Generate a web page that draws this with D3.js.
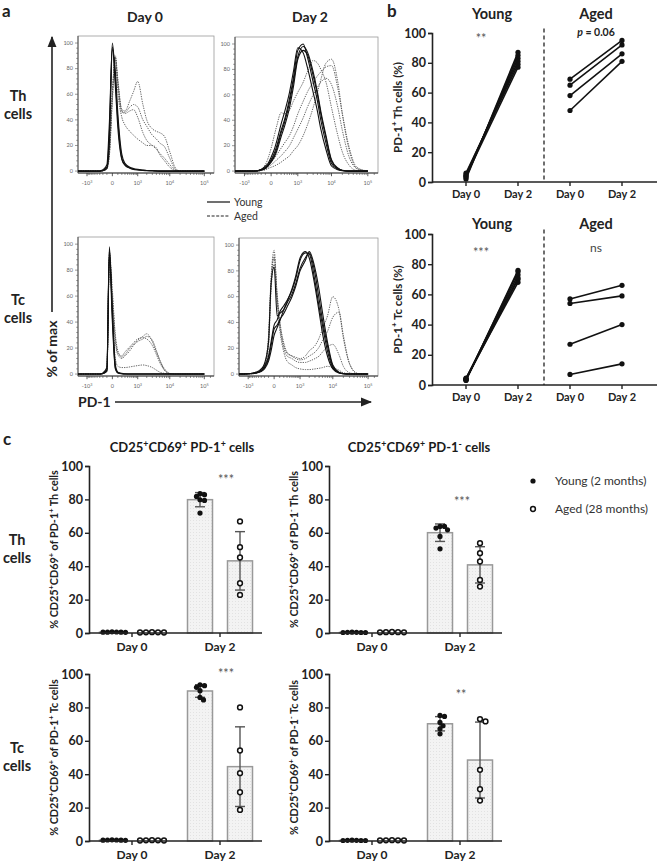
<!DOCTYPE html>
<html><head><meta charset="utf-8">
<script src="https://cdn.jsdelivr.net/npm/d3@7"></script>
<style>body{margin:0;background:#fff} svg{display:block;font-family:Lato,'Open Sans',sans-serif}</style>
</head><body><svg id="fig" width="660" height="862"></svg>
<script>
// ---------------- DATA ----------------
// Panel a: flow histograms, % of max sampled at these PD-1 fluorescence values
const HX = [-2000,-1000,-500,-300,-200,-100,-50,0,50,100,200,300,500,700,1000,1500,2000,3000,4000,5000,7000,10000,15000,20000,30000,50000,100000];
const histTickVals = [-1000,0,1000,10000,100000];
const histTickLabels = ["-10^3","0","10^3","10^4","10^5"];
const histYTicks = [0,20,40,60,80,100];

const thD0Young1 = [0,0,0,0,0.5,3,30,100,72,40,10,5,2.5,1.5,1,0.6,0.4,0.2,0.1,0,0,0,0,0,0,0,0];
const thD0Young2 = [0,0,0,0,1,5,38,97,66,34,9,4.5,2.2,1.3,0.9,0.5,0.3,0.2,0,0,0,0,0,0,0,0,0];
const thD0Young3 = [0,0,0,0,0.3,2,22,95,78,45,13,6,3,2,1.3,0.8,0.5,0.3,0.2,0,0,0,0,0,0,0,0];
const thD0Aged1 = [0,0,0,0,0.5,3,15,60,90,72,48,47,55,62,70,52,40,33,31,30,27,15,2,0,0,0,0];
const thD0Aged2 = [0,0,0,0,0.3,2,12,55,88,70,46,46,50,52,50,40,35,28,25,22,19,10,1,0,0,0,0];
const thD0Aged3 = [0,0,0,0,0.5,3,16,62,87,68,47,45,47,48,42,30,24,20,17,14,10,5,0.5,0,0,0,0];
const thD0Aged4 = [0,0,0,0,0.4,3,14,58,89,62,42,36,31,28,25,22,20,20,18,13,8,3,0.3,0,0,0,0];

const thD2Young1 = [0,0,0,0.3,1,3,5,9,14,20,32,40,57,73,95,100,90,70,55,40,22,6,1.5,0.5,0,0,0];
const thD2Young2 = [0,0,0,0.2,0.8,2,4,7,11,16,27,35,50,66,88,95,92,75,60,45,26,8,2,0.5,0,0,0];
const thD2Young3 = [0,0,0,0.4,1.2,4,6,11,17,24,37,46,62,78,97,93,82,62,47,33,17,4,1,0.3,0,0,0];
const thD2Young4 = [0,0,0,0.3,1,2.5,4.5,8,12,18,30,38,54,70,90,98,94,78,62,47,28,9,2.5,0.6,0,0,0];
const thD2Aged1 = [0,0,0,0.5,1.5,5,10,18,28,36,46,45,48,55,62,70,78,87,85,80,70,50,28,15,5,0.5,0];
const thD2Aged2 = [0,0,0,0.3,1,2.5,4,7,10,13,18,22,28,35,45,55,62,70,75,78,82,83,65,45,20,3,0];
const thD2Aged3 = [0,0,0,0.2,0.6,1.5,3,5,7,9,12,15,20,26,33,42,50,60,66,70,73,68,50,32,12,2,0];
const thD2Aged4 = [0,0,0,0.1,0.4,1,2,3,4,5,7,9,12,16,20,28,36,50,62,72,85,88,70,45,18,2,0];

const tcD0Young1 = [0,0,0,0,0.5,3,98,45,5,1,0.3,0,0,0,0,0,0,0,0,0,0,0,0,0,0,0,0];
const tcD0Young2 = [0,0,0,0,0.8,5,95,50,7,1.5,0.5,0.2,0,0,0,0,0,0,0,0,0,0,0,0,0,0,0];
const tcD0Young3 = [0,0,0,0,0.4,2,92,40,4,0.8,0.2,0,0,0,0,0,0,0,0,0,0,0,0,0,0,0,0];
const tcD0Aged1 = [0,0,0,0,0.5,3,90,60,30,18,13,15,20,23,26,29,31,25,17,11,4,0.5,0,0,0,0,0];
const tcD0Aged2 = [0,0,0,0,0.5,4,94,65,28,16,14,17,21,24,27,28,27,22,15,9,3,0.3,0,0,0,0,0];
const tcD0Aged3 = [0,0,0,0,0.4,3,85,55,25,15,12,14,18,22,25,27,29,26,18,11,3,0.3,0,0,0,0,0];
const tcD0Aged4 = [0,0,0,0,0.4,3,88,50,12,6,5,5,5.5,6,6.5,7,6.5,5,3,1.5,0.5,0,0,0,0,0,0];

const tcD2Young1 = [0,0.2,1,3,6,14,25,38,42,48,53,57,65,74,88,94,93,72,52,38,18,5,1,0.3,0,0,0];
const tcD2Young2 = [0,0.3,1.5,4,8,25,70,83,45,47,50,55,62,70,82,90,94,78,58,42,22,6,1.2,0.3,0,0,0];
const tcD2Young3 = [0,0.2,1,2.5,5,12,22,35,38,42,47,52,60,68,80,88,95,82,65,48,25,7,1.5,0.4,0,0,0];
const tcD2Young4 = [0,0.2,0.8,2,4,10,18,30,36,41,50,56,66,76,90,95,90,68,48,32,14,4,0.8,0.2,0,0,0];
const tcD2Aged1 = [0,0.2,1,3,7,30,75,96,60,40,22,16,14,13,12,14,18,22,28,35,45,60,50,28,8,0.5,0];
const tcD2Aged2 = [0,0.2,1,3,6,25,70,90,62,42,24,17,14,12,11,12,14,17,21,26,33,44,48,30,8,0.5,0];
const tcD2Aged3 = [0,0.2,1,2.5,6,28,72,92,58,38,20,14,12,10,9,9,10,12,14,17,21,23,15,6,1,0,0];
const tcD2Aged4 = [0,0.2,0.8,2.5,5,22,65,85,55,35,17,10,7,5,4,3.5,3.5,4,4.5,5,6,5,3,1,0.3,0,0];

// Panel b: paired % PD-1+ cells
const pairCats = ["Day 0","Day 2","Day 0","Day 2"];
const pairYTicks = [0,20,40,60,80,100];
const thYoungDay0 = [2,3,4,5,6,4];
const thYoungDay2 = [87,85,83,81,79,77];
const thAgedDay0 = [69,65,58,48];
const thAgedDay2 = [95,92,86,81];
const tcYoungDay0 = [3,3.5,4,4,3.5,4.5];
const tcYoungDay2 = [76,75,73,71,70,68];
const tcAgedDay0 = [57,54,27,7];
const tcAgedDay2 = [66,59,40,14];

// Panel c: % CD25+CD69+ cells
const barDays = ["Day 0","Day 2"];
const barYTicks = [0,20,40,60,80,100];
const cThPosYoungD0 = [0.5,0.6,0.4,0.5,0.7,0.5];
const cThPosAgedD0 = [0.3,0.4,0.3,0.5,0.4];
const cThPosYoungD2 = [82.8,83.4,81.8,79.8,79.4,71.8];
const cThPosAgedD2 = [66.8,51.4,45.2,29.8,22.8];
const cThNegYoungD0 = [0.3,0.4,0.3,0.5,0.4,0.3];
const cThNegAgedD0 = [0.4,0.5,0.4,0.6,0.5];
const cThNegYoungD2 = [63.8,63.8,62.8,61.8,57.8,50.4];
const cThNegAgedD2 = [53.8,47.8,42.8,31.8,27.8];
const cTcPosYoungD0 = [0.6,0.5,0.7,0.4,0.6,0.5];
const cTcPosAgedD0 = [0.4,0.3,0.5,0.4,0.3];
const cTcPosYoungD2 = [93,93.5,92,90,86,84.5];
const cTcPosAgedD2 = [80,54.2,40.6,29.2,18.6];
const cTcNegYoungD0 = [0.3,0.4,0.3,0.4,0.5,0.3];
const cTcNegAgedD0 = [0.3,0.4,0.3,0.5,0.4];
const cTcNegYoungD2 = [75.2,74.6,71,69,67.2,64.2];
const cTcNegAgedD2 = [73,71.6,42.6,31,24.2];

// ---------------- HELPERS ----------------
const svg = d3.select("#fig");
function rich(t, str, size){
  const parts=[]; const re=/\^(\{[^}]*\}|.)/g; let last=0, m;
  while((m=re.exec(str))){ if(m.index>last) parts.push({t:str.slice(last,m.index),sup:false});
    let s=m[1]; if(s[0]==='{') s=s.slice(1,-1); parts.push({t:s,sup:true}); last=re.lastIndex; }
  if(last<str.length) parts.push({t:str.slice(last),sup:false});
  let off=0; const k=size*0.4;
  parts.forEach(p=>{ const ts=t.append("tspan").text(p.t);
    if(p.sup){ ts.attr("font-size",size*0.68).attr("dy",(-k-off)); off=-k; }
    else { ts.attr("dy",-off); off=0; } });
  return t;
}
function label(x,y,str,size,opts={}){
  const t=svg.append("text").attr("x",x).attr("y",y).attr("font-size",size)
    .attr("font-weight",opts.w||"bold").attr("fill",opts.fill||"#222")
    .attr("text-anchor",opts.anchor||"middle");
  if(opts.rot) t.attr("transform",`rotate(-90,${x},${y})`);
  if(opts.italic) t.attr("font-style","italic");
  return rich(t,str,size);
}

// ---------------- PANEL a ----------------
label(2,17,"a",17,{anchor:"start"});
label(145,22,"Day 0",14);
label(310,22,"Day 2",14);
label(18,101,"Th",14.5); label(18,119,"cells",14.5);
label(18,305,"Tc",14.5); label(18,323,"cells",14.5);

const defs=svg.append("defs");
defs.append("marker").attr("id","arr").attr("viewBox","0 0 10 10").attr("refX",9).attr("refY",5)
  .attr("markerWidth",7).attr("markerHeight",7).attr("orient","auto")
  .append("path").attr("d","M0,1 L10,5 L0,9 Z").attr("fill","#222");
svg.append("line").attr("x1",52).attr("y1",312).attr("x2",52).attr("y2",37)
  .attr("stroke","#222").attr("stroke-width",1.6).attr("marker-end","url(#arr)");
label(57,349,"% of max",14,{rot:true});
svg.append("line").attr("x1",115).attr("y1",402).attr("x2",371).attr("y2",402)
  .attr("stroke","#222").attr("stroke-width",1.6).attr("marker-end","url(#arr)");
label(78,407,"PD-1",14,{anchor:"start"});

function hist(x0,x1,yTop,yBot,young,aged){
  const x=d3.scaleSymlog().constant(230).domain([-2000,190000]).range([x0,x1]);
  const y=d3.scaleLinear().domain([-1.5,105.5]).range([yBot,yTop]);
  const g=svg.append("g");
  g.append("rect").attr("x",x0).attr("y",yTop).attr("width",x1-x0).attr("height",yBot-yTop)
    .attr("fill","none").attr("stroke","#9a9a9a").attr("stroke-width",0.8);
  g.append("line").attr("x1",x0).attr("x2",x0).attr("y1",yTop).attr("y2",yBot).attr("stroke","#444").attr("stroke-width",0.9);
  g.append("line").attr("x1",x0).attr("x2",x1).attr("y1",yBot).attr("y2",yBot).attr("stroke","#333").attr("stroke-width",1);
  d3.range(0,101,4).forEach(v=>{ g.append("line").attr("x1",x0-(v%20===0?3:1.8)).attr("x2",x0)
    .attr("y1",y(v)).attr("y2",y(v)).attr("stroke","#555").attr("stroke-width",0.6); });
  histYTicks.forEach(v=>{ g.append("text").attr("x",x0-5).attr("y",y(v)+1.8).attr("font-size",5.5)
    .attr("text-anchor","end").attr("fill","#666").text(v); });
  const minor=[-900,-800,-700,-600,-500,-400,-300,-200,-100,100,200,300,400,500,600,700,800,900]
    .concat(d3.range(2000,10000,1000),d3.range(20000,100000,10000),[150000]);
  minor.forEach(v=>{ g.append("line").attr("x1",x(v)).attr("x2",x(v)).attr("y1",yBot).attr("y2",yBot+2)
    .attr("stroke","#444").attr("stroke-width",0.6); });
  histTickVals.forEach((v,i)=>{ g.append("line").attr("x1",x(v)).attr("x2",x(v)).attr("y1",yBot).attr("y2",yBot+3.2)
      .attr("stroke","#333").attr("stroke-width",0.8);
    const t=g.append("text").attr("x",x(v)).attr("y",yBot+12).attr("font-size",5.5).attr("fill","#666").attr("text-anchor","middle");
    rich(t,histTickLabels[i],5.5); });
  const line=d3.line().x((d,i)=>x(HX[i])).y(d=>y(d)).curve(d3.curveMonotoneX);
  aged.forEach(a=>g.append("path").attr("d",line(HX.map((h,i)=>a[i]||0))).attr("fill","none")
    .attr("stroke","#555").attr("stroke-width",0.9).attr("stroke-dasharray","1.3,1.1"));
  young.forEach(a=>g.append("path").attr("d",line(HX.map((h,i)=>a[i]||0))).attr("fill","none")
    .attr("stroke","#111").attr("stroke-width",1.1));
}
hist(78,214,36,173,[thD0Young1,thD0Young2,thD0Young3],[thD0Aged1,thD0Aged2,thD0Aged3,thD0Aged4]);
hist(235,378,37,173,[thD2Young1,thD2Young2,thD2Young3,thD2Young4],[thD2Aged1,thD2Aged2,thD2Aged3,thD2Aged4]);
hist(78,214,237,376,[tcD0Young1,tcD0Young2,tcD0Young3],[tcD0Aged1,tcD0Aged2,tcD0Aged3,tcD0Aged4]);
hist(239,378,238,376,[tcD2Young1,tcD2Young2,tcD2Young3,tcD2Young4],[tcD2Aged1,tcD2Aged2,tcD2Aged3,tcD2Aged4]);

svg.append("line").attr("x1",207).attr("x2",230).attr("y1",202).attr("y2",202).attr("stroke","#222").attr("stroke-width",1.3);
svg.append("line").attr("x1",207).attr("x2",230).attr("y1",216).attr("y2",216).attr("stroke","#222").attr("stroke-width",1.2).attr("stroke-dasharray","3,1.6");
label(234,206,"Young",10.5,{anchor:"start",w:"normal",fill:"#333"});
label(234,220,"Aged",10.5,{anchor:"start",w:"normal",fill:"#333"});

// ---------------- PANEL b ----------------
label(387,17,"b",17,{anchor:"start"});
function pairs(y0,y100,yD0,yD2,aD0,aD2,ylab,titleY,sigYoung,sigYoungY,sigAged,sigAgedY,agedItalicP){
  const x=d3.scalePoint().domain(d3.range(pairCats.length)).range([466,622]);
  const y=d3.scaleLinear().domain([0,100]).range([y0,y100]);
  const g=svg.append("g");
  const ax=g.append("g").attr("transform","translate(432,0)")
    .call(d3.axisLeft(y).tickValues(pairYTicks).tickSize(4).tickPadding(2));
  ax.select(".domain").attr("stroke","#222").attr("stroke-width",1.6);
  ax.selectAll(".tick line").attr("stroke","#222").attr("stroke-width",1.4);
  ax.selectAll("text").attr("font-size",12.5).attr("font-weight","bold").attr("fill","#222").attr("font-family","Lato,sans-serif");
  g.append("line").attr("x1",432).attr("x2",657).attr("y1",y0).attr("y2",y0).attr("stroke","#222").attr("stroke-width",1.6);
  pairCats.forEach((c,i)=>{ g.append("line").attr("x1",x(i)).attr("x2",x(i)).attr("y1",y0).attr("y2",y0+4).attr("stroke","#222").attr("stroke-width",1.4);
    label(x(i),y0+16,c,11); });
  const xm=(x(1)+x(2))/2;
  g.append("line").attr("x1",xm).attr("x2",xm).attr("y1",y(103)).attr("y2",y0).attr("stroke","#222").attr("stroke-width",1.3).attr("stroke-dasharray","4,3");
  const drawPairs=(d0,d2,i0,i1)=>{ d0.forEach((v,k)=>{
      g.append("line").attr("x1",x(i0)).attr("y1",y(v)).attr("x2",x(i1)).attr("y2",y(d2[k])).attr("stroke","#111").attr("stroke-width",1.6);
    });
    d0.forEach(v=>g.append("circle").attr("cx",x(i0)).attr("cy",y(v)).attr("r",2.6).attr("fill","#111"));
    d2.forEach(v=>g.append("circle").attr("cx",x(i1)).attr("cy",y(v)).attr("r",2.6).attr("fill","#111")); };
  drawPairs(yD0,yD2,0,1); drawPairs(aD0,aD2,2,3);
  label((x(0)+x(1))/2,titleY,"Young",14.5);
  label((x(2)+x(3))/2,titleY,"Aged",14.5);
  label(481,sigYoungY,sigYoung,12.5,{w:"normal",fill:"#555"});
  if(agedItalicP){
    const t=svg.append("text").attr("x",(x(2)+x(3))/2).attr("y",sigAgedY).attr("text-anchor","middle").attr("font-size",10.5).attr("font-weight","bold").attr("fill","#222");
    t.append("tspan").attr("font-style","italic").text("p");
    t.append("tspan").text(" = 0.06");
  } else label((x(2)+x(3))/2,sigAgedY,sigAged,12,{w:"normal",fill:"#444"});
  label(402,(y0+y100)/2,ylab,11.5,{rot:true});
}
pairs(182,33,thYoungDay0,thYoungDay2,thAgedDay0,thAgedDay2,"PD-1^+ Th cells (%)",19,"**",43,"",36,true);
pairs(385,234,tcYoungDay0,tcYoungDay2,tcAgedDay0,tcAgedDay2,"PD-1^+ Tc cells (%)",229,"***",257,"ns",252,false);

// ---------------- PANEL c ----------------
label(3,445,"c",17,{anchor:"start"});
label(182,452,"CD25^+CD69^+ PD-1^+ cells",13,{w:"bold",fill:"#1a1a1a"});
label(419,452,"CD25^+CD69^+ PD-1^- cells",13,{w:"bold",fill:"#1a1a1a"});
label(17,545,"Th",14.5); label(17,563,"cells",14.5);
label(17,753,"Tc",14.5); label(17,771,"cells",14.5);

const pat=defs.append("pattern").attr("id","stip").attr("width",3).attr("height",3).attr("patternUnits","userSpaceOnUse");
pat.append("rect").attr("width",3).attr("height",3).attr("fill","#f3f3f3");
pat.append("rect").attr("x",1).attr("y",1).attr("width",1).attr("height",1).attr("fill","#e2e2e2");

function swarm(vals,y,cx,minD){
  const pts=vals.map(v=>({v,py:y(v)})).sort((a,b)=>b.v-a.v); const placed=[];
  pts.forEach(p=>{ for(let k=0;k<200;k++){ const off=k===0?0:((k%2)?1:-1)*Math.ceil(k/2)*0.5;
      if(placed.every(q=>Math.hypot(q.x-(cx+off),q.py-p.py)>=minD)){ p.x=cx+off; placed.push(p); break; } } });
  return placed;
}
function bars(xl,y0,y100,yd0,ad0,yd2,ad2,ylab,sig,sigX,sigY){
  const x=d3.scalePoint().domain(barDays).range([xl+43,xl+131]);
  const y=d3.scaleLinear().domain([0,100]).range([y0,y100]);
  const g=svg.append("g");
  const groups=[[barDays[0],yd0,ad0],[barDays[1],yd2,ad2]];
  groups.forEach(([day,yv,av])=>{
    [[yv,-20,true],[av,20,false]].forEach(([vals,off,filled])=>{
      const cx=x(day)+off, m=d3.mean(vals), sd=d3.deviation(vals);
      g.append("rect").attr("x",cx-12.5).attr("width",25).attr("y",y(m)).attr("height",Math.max(0,y0-y(m)))
        .attr("fill","url(#stip)").attr("stroke","#999").attr("stroke-width",1.5);
      g.append("line").attr("x1",cx).attr("x2",cx).attr("y1",y(m+sd)).attr("y2",y(m-sd)).attr("stroke","#555").attr("stroke-width",1.4);
      [m+sd,m-sd].forEach(v=>g.append("line").attr("x1",cx-5).attr("x2",cx+5).attr("y1",y(v)).attr("y2",y(v)).attr("stroke","#555").attr("stroke-width",1.4));
      swarm(vals,y,cx,filled?4.2:5.6).forEach(p=>{
        g.append("circle").attr("cx",p.x).attr("cy",p.py).attr("r",filled?2.6:2.4)
          .attr("fill",filled?"#111":"#fff").attr("stroke","#111").attr("stroke-width",filled?0:1.5);
      });
    });
  });
  const ax=g.append("g").attr("transform",`translate(${xl},0)`)
    .call(d3.axisLeft(y).tickValues(barYTicks).tickSize(4).tickPadding(2));
  ax.select(".domain").attr("stroke","#222").attr("stroke-width",1.6);
  ax.selectAll(".tick line").attr("stroke","#222").attr("stroke-width",1.4);
  ax.selectAll("text").attr("font-size",12.5).attr("font-weight","bold").attr("fill","#222").attr("font-family","Lato,sans-serif");
  g.append("line").attr("x1",xl).attr("x2",xl+173).attr("y1",y0).attr("y2",y0).attr("stroke","#222").attr("stroke-width",1.6);
  barDays.forEach(d=>{ g.append("line").attr("x1",x(d)).attr("x2",x(d)).attr("y1",y0).attr("y2",y0+4).attr("stroke","#222").attr("stroke-width",1.4);
    label(x(d),y0+18,d,12); });
  label(sigX,sigY,sig,12.5,{w:"normal",fill:"#555"});
  label(xl-31,(y0+y100)/2,ylab,10.8,{rot:true});
}
bars(89,633,466,cThPosYoungD0,cThPosAgedD0,cThPosYoungD2,cThPosAgedD2,"% CD25^+CD69^+ of PD-1^+ Th cells","***",226,484);
bars(329,633,466,cThNegYoungD0,cThNegAgedD0,cThNegYoungD2,cThNegAgedD2,"% CD25^+CD69^+ of PD-1^- Th cells","***",462,506);
bars(89,841,674,cTcPosYoungD0,cTcPosAgedD0,cTcPosYoungD2,cTcPosAgedD2,"% CD25^+CD69^+ of PD-1^+ Tc cells","***",226,678);
bars(329,841,674,cTcNegYoungD0,cTcNegAgedD0,cTcNegYoungD2,cTcNegAgedD2,"% CD25^+CD69^+ of PD-1^- Tc cells","**",461,699);

svg.append("circle").attr("cx",533).attr("cy",481).attr("r",2.6).attr("fill","#111");
svg.append("circle").attr("cx",533).attr("cy",509).attr("r",2.4).attr("fill","#fff").attr("stroke","#111").attr("stroke-width",1.5);
label(555,485,"Young (2 months)",12,{anchor:"start",w:"normal",fill:"#333"});
label(555,513,"Aged (28 months)",12,{anchor:"start",w:"normal",fill:"#333"});
</script></body></html>
